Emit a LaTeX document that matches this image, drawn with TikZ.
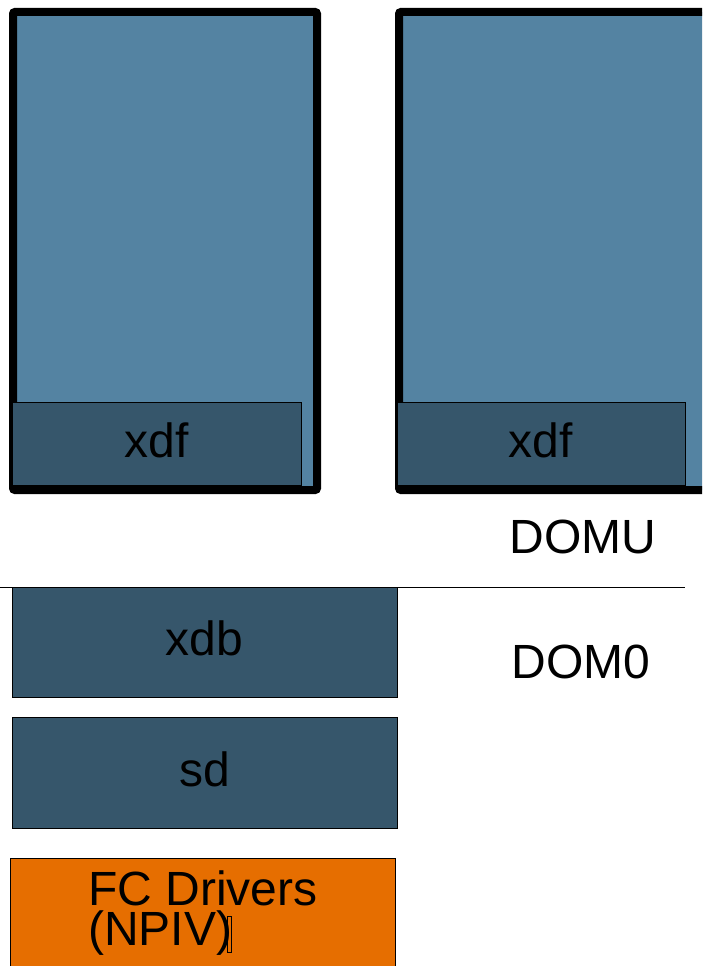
\documentclass[tikz,border=0pt]{standalone}
\usepackage{fontspec}
\setmainfont{Liberation Sans}

\definecolor{vmblue}{HTML}{5483A2}
\definecolor{drvblue}{HTML}{36566B}
\definecolor{fcorange}{HTML}{E66E00}

\tikzset{
	vmbox/.style={draw=black, fill=vmblue, line width=8pt, rounded corners=2pt, inner sep=0pt},
	drvbox/.style={draw=black, fill=drvblue, line width=1pt, inner sep=0pt},
	hwbox/.style={draw=black, fill=fcorange, line width=1pt, inner sep=0pt},
	lbl/.style={font=\fontsize{48}{40}\selectfont, text=black, inner sep=0pt}
}

\begin{document}
\begin{tikzpicture}[x=1pt,y=-1pt]
			\useasboundingbox (0,0) rectangle (702,966);
			\clip (0,0) rectangle (702,966);
			\fill[white] (0,0) rectangle (702,966);
			% guest domains
			\node[vmbox, minimum width=304pt, minimum height=478pt] (guestA) at (165,251) {};
			\node[vmbox, minimum width=313pt, minimum height=478pt] (guestB) at (555.5,251) {};
			\node[drvbox, minimum width=289pt, minimum height=83pt] (xdfA) at (156.5,443.5) {};
			\node[drvbox, minimum width=288pt, minimum height=83pt] (xdfB) at (541,443.5) {};
			\node[lbl, yshift=3pt] at (xdfA) {xdf};
			\node[lbl, yshift=3pt] at (xdfB) {xdf};
			% domain split
			\draw[line width=1pt] (0,587.5) -- (685,587.5);
			\node[lbl] (domu) at (583,537) {DOMU};
			\node[lbl] (domzero) at (581,662) {DOM0};
			% dom0 stack
			\node[drvbox, minimum width=385pt, minimum height=110pt] (xdb) at (204.5,642) {};
			\node[drvbox, minimum width=385pt, minimum height=111pt] (sd) at (204.5,772.5) {};
			\node[hwbox, minimum width=385pt, minimum height=122pt] (fc) at (202.5,919) {};
			\node[lbl, yshift=4pt] at (xdb) {xdb};
			\node[lbl, yshift=3pt] at (sd) {sd};
			\node[lbl, anchor=base west, align=left] (fctext) at (88,945) {FC Drivers\\(NPIV)};
			\draw[line width=0.8pt] (227,916) rectangle (231.5,952);
\end{tikzpicture}
\end{document}
